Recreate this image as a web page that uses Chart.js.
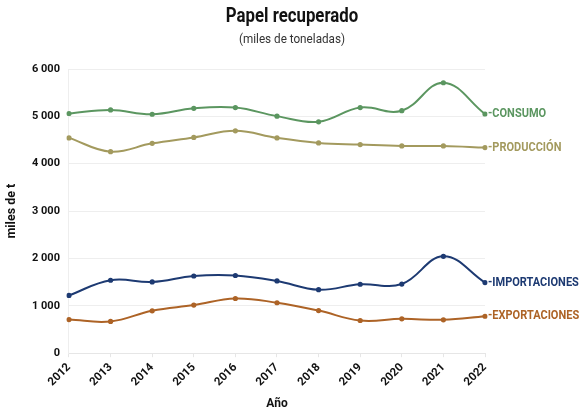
<!DOCTYPE html>
<html>
<head>
<meta charset="utf-8">
<script src="https://cdn.jsdelivr.net/npm/chart.js@4.4.1/dist/chart.umd.min.js"></script>
<style>
  html, body { margin: 0; padding: 0; background: #fff; }
  #wrap { width: 584px; height: 411px; }
</style>
</head>
<body>
<div id="wrap"><canvas id="chart"></canvas></div>
<script>
const anios = ["2012", "2013", "2014", "2015", "2016", "2017", "2018", "2019", "2020", "2021", "2022"];
const consumo = [5060, 5135, 5045, 5170, 5185, 5005, 4885, 5185, 5120, 5710, 5050];
const produccion = [4545, 4255, 4430, 4555, 4695, 4545, 4440, 4405, 4375, 4375, 4340];
const importaciones = [1220, 1540, 1505, 1630, 1640, 1525, 1340, 1455, 1460, 2045, 1490];
const exportaciones = [710, 670, 895, 1015, 1155, 1065, 900, 690, 725, 705, 780];
const yTicks = [0, 1000, 2000, 3000, 4000, 5000, 6000];

const colores = {
    consumo: '#5b9660',
    produccion: '#a39a5e',
    importaciones: '#1d3a72',
    exportaciones: '#ad6326'
};

function serie(nombre, valores, color) {
    return {
        label: nombre,
        data: valores,
        borderColor: color,
        backgroundColor: color,
        borderWidth: 2,
        pointRadius: 2.6,
        pointBorderWidth: 0,
        pointHoverRadius: 2.6,
        tension: 0.4
    };
}

// texto estrecho (la fuente original es condensada)
function textoEstrecho(ctx, txt, x, y, esc) {
    ctx.save();
    ctx.translate(x, y);
    ctx.scale(esc, 1);
    ctx.fillText(txt, 0, 0);
    ctx.restore();
}

// titulo centrado en todo el lienzo
const titulo = {
    id: 'titulo',
    afterDraw(chart) {
        const ctx = chart.ctx;
        const cx = chart.width / 2;
        ctx.save();
        ctx.textAlign = 'center';
        ctx.textBaseline = 'middle';
        ctx.fillStyle = '#111';
        ctx.font = 'bold 20px Roboto';
        textoEstrecho(ctx, 'Papel recuperado', cx, 17, 0.84);
        ctx.fillStyle = '#333';
        ctx.font = '13px Roboto';
        textoEstrecho(ctx, '(miles de toneladas)', cx, 40, 0.9);
        ctx.restore();
    }
};

// etiquetas al final de cada linea
const etiquetasFinales = {
    id: 'etiquetasFinales',
    afterDatasetsDraw(chart) {
        const ctx = chart.ctx;
        chart.data.datasets.forEach((ds, i) => {
            const meta = chart.getDatasetMeta(i);
            const p = meta.data[meta.data.length - 1];
            ctx.save();
            ctx.font = 'bold 12.5px Roboto';
            ctx.textBaseline = 'middle';
            ctx.fillStyle = ds.borderColor;
            textoEstrecho(ctx, '-' + ds.label, p.x + 3, p.y, 0.88);
            ctx.restore();
        });
    }
};

const config = {
    type: 'line',
    data: {
        labels: anios,
        datasets: [
            serie('CONSUMO', consumo, colores.consumo),
            serie('PRODUCCIÓN', produccion, colores.produccion),
            serie('IMPORTACIONES', importaciones, colores.importaciones),
            serie('EXPORTACIONES', exportaciones, colores.exportaciones)
        ]
    },
    options: {
        responsive: true,
        maintainAspectRatio: false,
        animation: false,
        layout: { padding: { left: 4, right: 99, top: 69, bottom: 0 } },
        plugins: {
            legend: { display: false },
            tooltip: { enabled: false }
        },
        scales: {
            x: {
                offset: false,
                grid: { drawOnChartArea: false, color: '#e6e6e6', tickLength: 4 },
                border: { color: '#e6e6e6' },
                ticks: {
                    color: '#111',
                    font: { family: 'Roboto', size: 11.5, weight: 'bold' },
                    maxRotation: 45,
                    minRotation: 45,
                    padding: 3.5
                },
                title: {
                    display: true,
                    text: 'Año',
                    color: '#111',
                    font: { family: 'Roboto', size: 12, weight: 'bold' },
                    padding: { top: 4, bottom: 0 }
                }
            },
            y: {
                min: 0,
                max: 6000,
                afterBuildTicks(axis) {
                    axis.ticks = yTicks.map(v => ({ value: v }));
                },
                grid: { color: '#eeeeee', drawTicks: false },
                border: { color: '#eeeeee' },
                ticks: {
                    color: '#111',
                    padding: 9,
                    font: { family: 'Roboto', size: 11, weight: 'bold' },
                    callback: v => v.toLocaleString('fr-FR').replace(/\u202f|\u00a0/g, ' ')
                },
                title: {
                    display: true,
                    text: 'miles de t',
                    color: '#111',
                    font: { family: 'Roboto', size: 12.5, weight: 'bold' },
                    padding: { top: 0, bottom: 4 }
                }
            }
        }
    },
    plugins: [titulo, etiquetasFinales]
};

new Chart(document.getElementById('chart').getContext('2d'), config);
</script>
</body>
</html>
